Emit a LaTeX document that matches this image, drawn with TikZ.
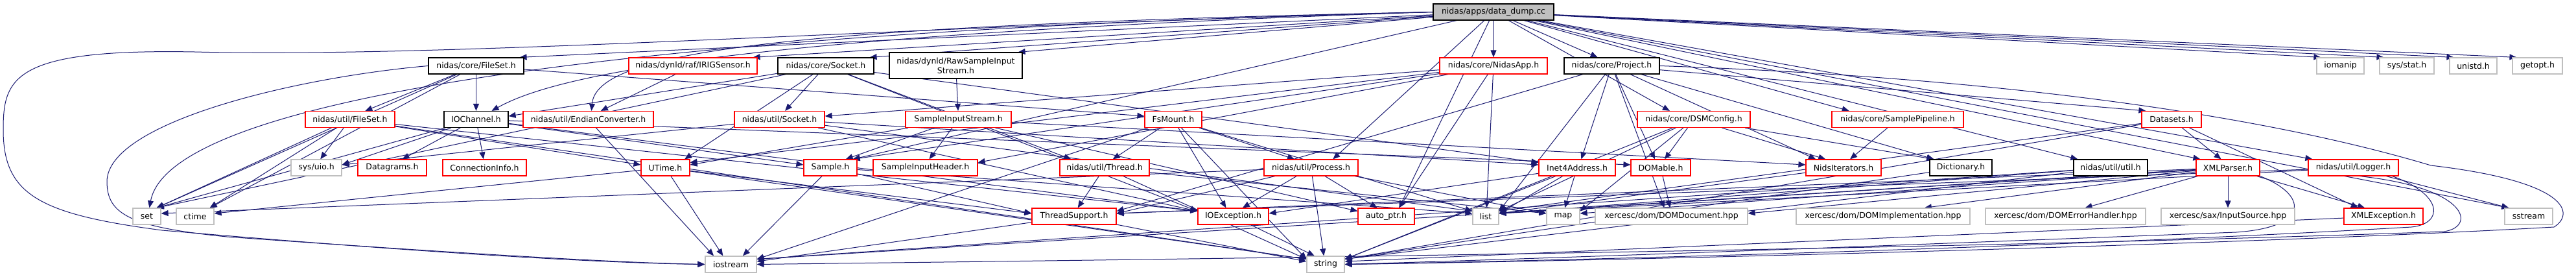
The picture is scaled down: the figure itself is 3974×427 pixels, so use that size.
\documentclass[tikz,border=0pt]{standalone}
\usepackage{fontspec}
\setmainfont{DejaVu Sans}
\usetikzlibrary{arrows.meta,calc}
\pgfdeclarelayer{bg}
\pgfsetlayers{bg,main}
\definecolor{edgec}{HTML}{191970}
\definecolor{grayb}{HTML}{BFBFBF}
\definecolor{redb}{HTML}{FF0000}
\tikzset{
  box/.style={draw, line width=1.2pt, fill=white, minimum height=25pt, inner sep=0pt, font=\fontsize{12.5}{15}\selectfont},
  rbox/.style={box, draw=redb},
  kbox/.style={box, draw=black},
  gbox/.style={box, draw=grayb},
  dep/.style={draw=edgec, line width=1pt, -{Triangle[length=11pt,width=9pt]}},
}
\begin{document}
\begin{tikzpicture}[x=1pt,y=1pt]
\useasboundingbox (0,0) rectangle (3974,-427);
% row 1
\node[kbox, fill=grayb, minimum width=186pt] (root) at (2304,-18.5) {nidas/apps/data\_dump.cc};
% row 2
\node[kbox, minimum width=147pt] (cfs) at (734.5,-101.5) {nidas/core/FileSet.h};
\node[rbox, minimum width=198pt] (irig) at (1069,-101.5) {nidas/dynld/raf/IRIGSensor.h};
\node[kbox, minimum width=148pt] (csock) at (1274,-101.5) {nidas/core/Socket.h};
\node[kbox, minimum width=205pt, minimum height=40pt, align=center] (rsis) at (1474.5,-101) {nidas/dynld/RawSampleInput\\Stream.h};
\node[rbox, minimum width=166pt] (napp) at (2304,-101.5) {nidas/core/NidasApp.h};
\node[kbox, minimum width=147pt] (proj) at (2486.5,-101.5) {nidas/core/Project.h};
\node[gbox, minimum width=73pt] (iomanip) at (3610.5,-101.5) {iomanip};
\node[gbox, minimum width=84pt] (sysstat) at (3713,-101.5) {sys/stat.h};
\node[gbox, minimum width=73pt] (unistd) at (3815.5,-101.5) {unistd.h};
\node[gbox, minimum width=77pt] (getopt) at (3914.5,-101.5) {getopt.h};
% row 3
\node[rbox, minimum width=138pt] (ufs) at (540,-184) {nidas/util/FileSet.h};
\node[kbox, minimum width=99pt] (ioch) at (734.5,-184) {IOChannel.h};
\node[rbox, minimum width=201pt] (endian) at (907.5,-184) {nidas/util/EndianConverter.h};
\node[rbox, minimum width=139pt] (usock) at (1202.5,-184) {nidas/util/Socket.h};
\node[rbox, minimum width=163pt] (sis) at (1478.5,-184) {SampleInputStream.h};
\node[rbox, minimum width=88pt] (fsm) at (1810,-184) {FsMount.h};
\node[rbox, minimum width=174pt] (dsmc) at (2613,-184) {nidas/core/DSMConfig.h};
\node[rbox, minimum width=203pt] (spipe) at (2927.5,-184) {nidas/core/SamplePipeline.h};
\node[rbox, minimum width=92pt] (dsets) at (3350,-184) {Datasets.h};
% row 4
\node[gbox, minimum width=78pt] (uio) at (488,-258.5) {sys/uio.h};
\node[rbox, minimum width=106pt] (dgram) at (605,-258.5) {Datagrams.h};
\node[rbox, minimum width=129pt] (conn) at (747.5,-258.5) {ConnectionInfo.h};
\node[rbox, minimum width=75pt] (utime) at (1026.5,-258.5) {UTime.h};
\node[rbox, minimum width=82pt] (sample) at (1281,-258.5) {Sample.h};
\node[rbox, minimum width=161pt] (sih) at (1427.5,-258.5) {SampleInputHeader.h};
\node[rbox, minimum width=138pt] (thread) at (1704,-258.5) {nidas/util/Thread.h};
\node[rbox, minimum width=145pt] (proc) at (2022.5,-258.5) {nidas/util/Process.h};
\node[rbox, minimum width=118pt] (inet) at (2433,-258.5) {Inet4Address.h};
\node[rbox, minimum width=92pt] (domable) at (2562,-258.5) {DOMable.h};
\node[rbox, minimum width=116pt] (nids) at (2844,-258.5) {NidsIterators.h};
\node[kbox, minimum width=96pt] (dict) at (3025,-258.5) {Dictionary.h};
\node[kbox, minimum width=114pt] (uutil) at (3256,-258.5) {nidas/util/util.h};
\node[rbox, minimum width=98pt] (xmlp) at (3437,-258.5) {XMLParser.h};
\node[rbox, minimum width=139pt] (logger) at (3630.5,-258.5) {nidas/util/Logger.h};
% row 5
\node[gbox, minimum width=43pt] (set) at (226.5,-333.5) {set};
\node[gbox, minimum width=58pt] (ctime) at (301,-333.5) {ctime};
\node[rbox, minimum width=130pt] (tsup) at (1657,-333.5) {ThreadSupport.h};
\node[rbox, minimum width=109pt] (ioex) at (1902.5,-333.5) {IOException.h};
\node[rbox, minimum width=87pt] (autop) at (2138.5,-333.5) {auto\_ptr.h};
\node[gbox, minimum width=40pt] (list) at (2292,-333.5) {list};
\node[gbox, minimum width=51pt] (map) at (2411.5,-333.5) {map};
\node[gbox, minimum width=235pt] (domdoc) at (2578.5,-333.5) {xercesc/dom/DOMDocument.hpp};
\node[gbox, minimum width=268pt] (domimpl) at (2905,-333.5) {xercesc/dom/DOMImplementation.hpp};
\node[gbox, minimum width=247pt] (domerr) at (3186.5,-333.5) {xercesc/dom/DOMErrorHandler.hpp};
\node[gbox, minimum width=206pt] (insrc) at (3437,-333.5) {xercesc/sax/InputSource.hpp};
\node[rbox, minimum width=122pt] (xmlex) at (3677,-333.5) {XMLException.h};
\node[gbox, minimum width=74pt] (sstream) at (3901,-333.5) {sstream};
% row 6
\node[gbox, minimum width=79pt] (iostream) at (1127.5,-407.5) {iostream};
\node[gbox, minimum width=58pt] (string) at (2045,-407.5) {string};

\begin{pgfonlayer}{bg}
% connectors entering the top of their target (arrival point spread along the top edge)
\foreach \a/\b in {root/cfs, root/irig, root/csock, root/rsis, root/napp, root/proj,
  root/iomanip, root/sysstat, root/unistd, root/getopt, root/proc, root/autop,
  root/dsmc, root/spipe, root/uutil, root/xmlp, root/logger, root/sstream, root/sample,
  cfs/ioch, cfs/ufs, cfs/ctime, cfs/set, irig/endian,
  csock/usock, csock/utime, csock/set, csock/thread,
  ufs/uio, ufs/set, ufs/ctime, ioch/dgram, ioch/conn, ioch/set,
  endian/iostream, rsis/sis, sis/sih, sis/sample,
  fsm/thread, fsm/ioex, fsm/proc, napp/autop, napp/sample, napp/list,
  proj/inet, proj/domable, proj/nids, proj/dict, proj/dsets, proj/domdoc,
  dsmc/domable, dsmc/nids, dsmc/dict, spipe/nids, dsets/xmlp, dsets/xmlex,
  thread/tsup, proc/autop, proc/ioex, inet/map, domable/domdoc,
  xmlp/domimpl, xmlp/domerr, xmlp/insrc, xmlp/xmlex, logger/sstream,
  utime/iostream, sample/iostream, proc/string, ioex/string}
{
  \path let \p1=(\a.center), \p2=(\b.north), \p3=(\b.north east),
    \n1={max(-(\x3-\x2)+7, min((\x3-\x2)-7, 0.12*(\x1-\x2)))}
    in coordinate (tgt) at (\x2+\n1,\y2);
  \draw[dep] (\a) -- (tgt);
}
% connectors entering the right side of their target
\foreach \a/\b in {csock/ioch, napp/usock, sis/utime, ioch/uio, usock/uio, napp/sih, napp/utime,
  proj/tsup, logger/tsup, xmlp/tsup, proc/tsup, inet/ioex,
  inet/list, dsmc/list, proj/list, xmlp/list, dsets/list, nids/list, uutil/list, logger/list,
  xmlp/map, dsmc/map, xmlp/domdoc,
  fsm/iostream, uutil/iostream, xmlp/iostream, tsup/iostream,
  dsmc/string, dsets/string, dict/string, uutil/string, xmlex/string, inet/string,
  proc/set, utime/ctime}
{
  \path let \p1=(\a.center), \p2=(\b.east),
    \n1={max(-8, min(8, 0.06*(\y1-\y2)))}
    in coordinate (tgt) at (\x2,\y2+\n1);
  \draw[dep] (\a) -- (tgt);
}
% connectors entering the left side of their target
\foreach \a/\b in {cfs/fsm, ufs/utime, ufs/ioex, ufs/string, ioch/sample, ioch/domable, ioch/ioex,
  usock/inet, usock/ioex, usock/list, sis/nids, sis/autop, fsm/list, sample/list,
  sample/tsup, utime/tsup, thread/string, fsm/string, tsup/string, utime/string,
  thread/map, proc/map, csock/inet, csock/ioex}
{
  \path let \p1=(\a.center), \p2=(\b.west),
    \n1={max(-8, min(8, 0.06*(\y1-\y2)))}
    in coordinate (tgt) at (\x2,\y2+\n1);
  \draw[dep] (\a) -- (tgt);
}
% curved connectors
\draw[dep] (root.west) .. controls (900,-50) and (260,-160) .. ([xshift=4pt]set.north);
\draw[dep] (root.west) .. controls (1100,-55) and (850,-120) .. ([xshift=24pt]ioch.north);
\draw[dep] (root.west) .. controls (1200,-40) and (920,-80) .. ([xshift=5pt]endian.north);
\draw[dep] (root.west) .. controls (1400,-40) and (700,-90) .. (300,-80)
  .. controls (20,-75) and (5,-120) .. (5,-200)
  .. controls (5,-300) and (60,-330) .. (250,-355)
  .. controls (600,-385) and (900,-405) .. (iostream.west);
\draw[dep] (cfs.west) .. controls (450,-120) and (165,-190) .. (165,-280)
  .. controls (165,-330) and (200,-350) .. (350,-365)
  .. controls (700,-390) and (950,-405) .. (iostream.west);
\draw[dep] (proj.east) .. controls (3100,-120) and (3500,-180) .. (3750,-255)
  .. controls (3965,-280) and (3972,-330) .. (3940,-350)
  .. controls (3500,-375) and (2600,-400) .. (string.east);
\draw[dep] (xmlp.south east) .. controls (3560,-300) and (3565,-350) .. (3450,-358)
  .. controls (3000,-375) and (2500,-395) .. (string.east);
\draw[dep] ([xshift=-10pt]logger.south east) .. controls (3770,-300) and (3770,-345) .. (3720,-350)
  .. controls (3200,-380) and (2500,-400) .. (string.east);
\draw[dep] ([xshift=10pt]logger.south) .. controls (3810,-290) and (3820,-350) .. (3770,-357)
  .. controls (3000,-385) and (1800,-400) .. (iostream.east);
\end{pgfonlayer}
\end{tikzpicture}
\end{document}
